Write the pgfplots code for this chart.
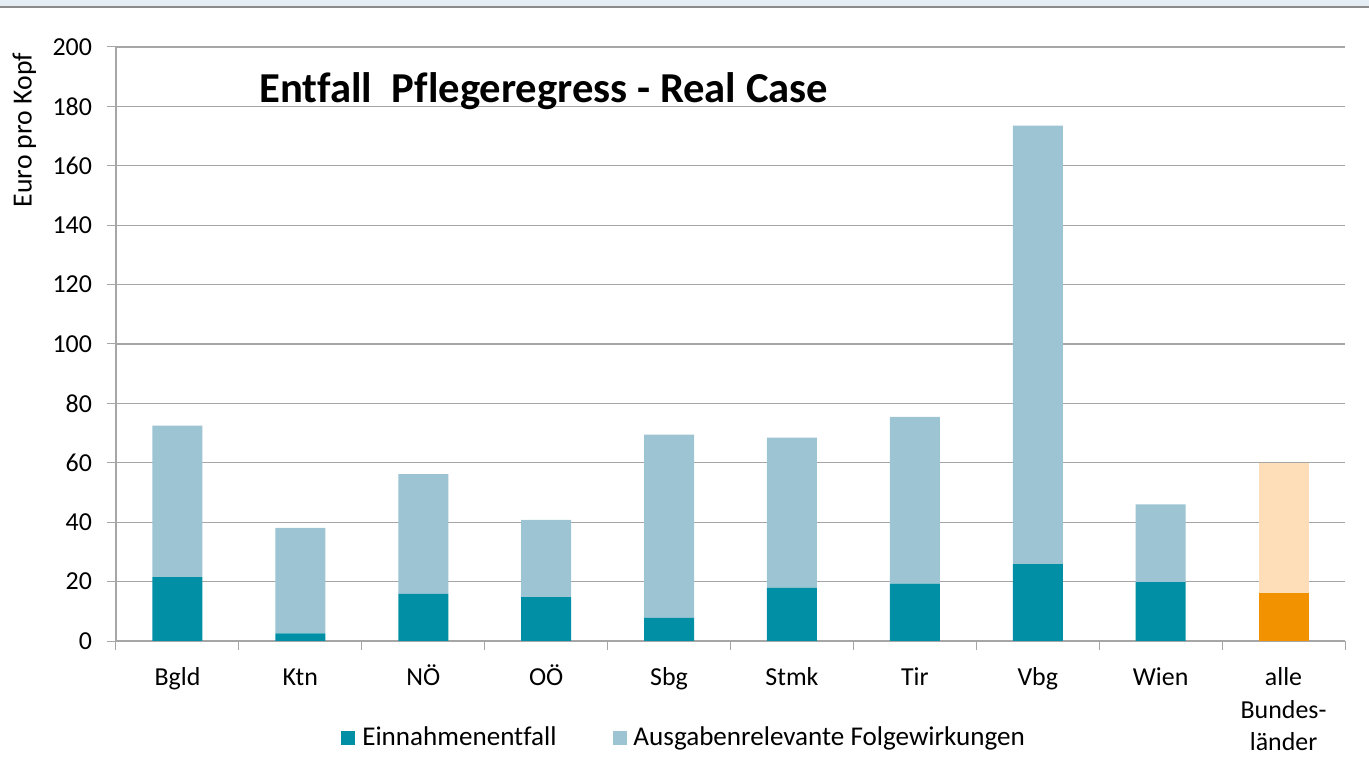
\documentclass[border=0pt]{standalone}
\usepackage{fontspec}
\setmainfont{Carlito}[Ligatures={NoCommon}]
\usepackage{pgfplots}
\pgfplotsset{compat=1.18}
\definecolor{darkteal}{RGB}{0,143,165}
\definecolor{lightteal}{RGB}{156,196,210}
\definecolor{orangeA}{RGB}{243,146,0}
\definecolor{orangeL}{RGB}{253,222,185}
\definecolor{gridgray}{RGB}{166,166,166}
\definecolor{topband}{RGB}{228,238,244}
\definecolor{topline}{RGB}{140,140,140}
\begin{document}
\begin{tikzpicture}
\useasboundingbox (-58bp,-65.5bp) rectangle (626.5bp,320.5bp);
\fill[topband] (-58bp,317.5bp) rectangle (626.5bp,320.5bp);
\fill[topline] (-58bp,316.35bp) rectangle (626.5bp,317.65bp);
\begin{axis}[
  at={(0bp,0bp)}, anchor=south west,
  scale only axis, width=614.5bp, height=297bp,
  ybar stacked, bar width=25bp,
  xmin=-0.5, xmax=9.5, ymin=0, ymax=200,
  xtick={-0.5,0.5,...,9.5},
  x tick label as interval,
  xticklabels={\strut Bgld,\strut Ktn,\strut NÖ,\strut OÖ,\strut Sbg,\strut Stmk,\strut Tir,\strut Vbg,\strut Wien,{\strut alle\\Bundes-\\länder}},
  ytick={0,20,...,200},
  tick align=outside, major tick length=4.5bp,
  tick style={gridgray, line width=0.5bp},
  axis x line*=bottom, axis y line*=left,
  axis line style={gridgray, line width=0.6bp, -},
  ymajorgrids, grid style={gridgray, line width=0.6bp},
  /pgf/number format/assume math mode=true,
  tick label style={font=\fontsize{13}{16.25}\selectfont, text=black},
  xticklabel style={align=center, yshift=-3bp},
  yticklabel style={xshift=-4bp},
  ylabel={Euro pro Kopf},
  every axis y label/.style={at={(axis description cs:-0.0745,0.860)}, rotate=90, anchor=center, font=\fontsize{13.9}{16}\selectfont},
  legend style={at={(axis description cs:0.463,-0.1633)}, anchor=center, draw=none, fill=none,
    legend columns=2, font=\fontsize{13.6}{16}\selectfont,
    /tikz/every odd column/.append style={column sep=1.5bp},
    /tikz/every even column/.append style={column sep=26bp}},
  legend image code/.code={\fill[#1] (0bp,-3.5bp) rectangle (7bp,3.5bp);},
]
\addplot[fill=darkteal, draw=none] coordinates {(0,21.5) (1,2.6) (2,15.9) (3,14.8) (4,7.8) (5,17.9) (6,19.3) (7,25.9) (8,19.8) (9,0)};
\addlegendentry{Einnahmenentfall}
\addplot[fill=lightteal, draw=none] coordinates {(0,51.0) (1,35.5) (2,40.3) (3,26.0) (4,61.7) (5,50.6) (6,56.2) (7,147.6) (8,26.2) (9,0)};
\addlegendentry{Ausgabenrelevante Folgewirkungen}
\addplot[fill=orangeA, draw=none, forget plot] coordinates {(0,0) (1,0) (2,0) (3,0) (4,0) (5,0) (6,0) (7,0) (8,0) (9,16.2)};
\addplot[fill=orangeL, draw=none, forget plot] coordinates {(0,0) (1,0) (2,0) (3,0) (4,0) (5,0) (6,0) (7,0) (8,0) (9,43.8)};
\node[anchor=base west, font=\fontsize{21.4}{25}\selectfont\bfseries] at (axis description cs:0.111,0.906) {Entfall\ \ Pflegeregress - Real Case};
\end{axis}
\end{tikzpicture}
\end{document}
